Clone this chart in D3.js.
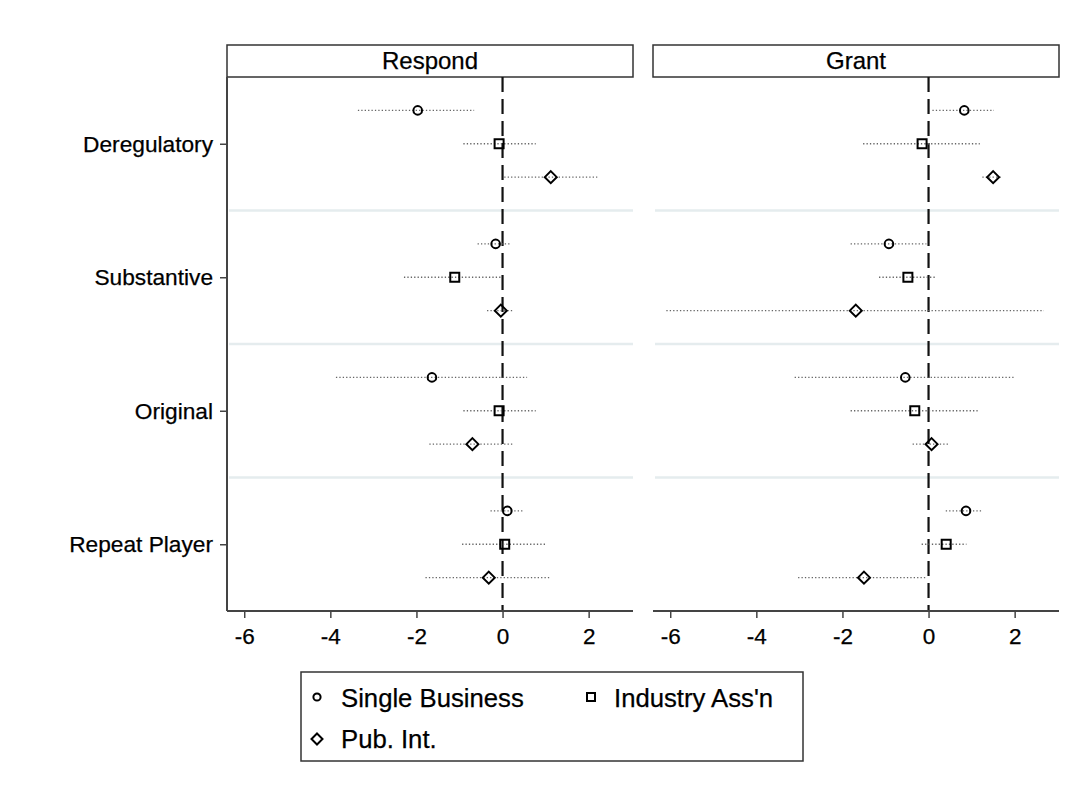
<!DOCTYPE html>
<html>
<head>
<meta charset="utf-8">
<script src="https://cdn.jsdelivr.net/npm/d3@7"></script>
<style>
  html, body { margin: 0; padding: 0; background: #fff; }
  svg { display: block; font-family: "Liberation Sans", Arial, Helvetica, sans-serif; }
  text { stroke: #000; stroke-width: 0.25px; }
</style>
</head>
<body>
<svg id="chart" width="1084" height="795"></svg>
<script>
// Outcome categories (rows) and submitter types (markers within each row)
const categories = ["Deregulatory", "Substantive", "Original", "Repeat Player"];
const groups = ["Single Business", "Industry Ass'n", "Pub. Int."];
const panels = ["Respond", "Grant"];
const xTicks = [-6, -4, -2, 0, 2];

// Respond panel: estimate, lower bound, upper bound per category, one array per group
const respondSingleEst = [-1.97, -0.16, -1.64, 0.11];
const respondSingleLo  = [-3.36, -0.58, -3.87, -0.28];
const respondSingleHi  = [-0.66,  0.19,  0.57,  0.48];
const respondIndEst    = [-0.08, -1.11, -0.08, 0.05];
const respondIndLo     = [-0.91, -2.29, -0.91, -0.94];
const respondIndHi     = [ 0.77, -0.04,  0.77,  1.02];
const respondPubEst    = [ 1.12, -0.04, -0.70, -0.32];
const respondPubLo     = [ 0.04, -0.36, -1.70, -1.79];
const respondPubHi     = [ 2.20,  0.23,  0.27,  1.10];

// Grant panel
const grantSingleEst = [ 0.83, -0.92, -0.54, 0.87];
const grantSingleLo  = [ 0.09, -1.81, -3.11, 0.40];
const grantSingleHi  = [ 1.52, -0.05,  1.99, 1.25];
const grantIndEst    = [-0.15, -0.48, -0.32, 0.41];
const grantIndLo     = [-1.52, -1.15, -1.81, -0.16];
const grantIndHi     = [ 1.19,  0.17,  1.14, 0.88];
const grantPubEst    = [ 1.50, -1.69,  0.07, -1.50];
const grantPubLo     = [ 1.25, -6.09, -0.37, -3.03];
const grantPubHi     = [ 1.72,  2.68,  0.48, -0.05];

const panelSeries = {
  "Respond": [
    [respondSingleEst, respondSingleLo, respondSingleHi],
    [respondIndEst, respondIndLo, respondIndHi],
    [respondPubEst, respondPubLo, respondPubHi]
  ],
  "Grant": [
    [grantSingleEst, grantSingleLo, grantSingleHi],
    [grantIndEst, grantIndLo, grantIndHi],
    [grantPubEst, grantPubLo, grantPubHi]
  ]
};

// Flatten into plotting rows: slot index places each marker inside its category band
function rowsFor(panel) {
  const out = [];
  categories.forEach((c, ci) => {
    groups.forEach((g, gi) => {
      const s = panelSeries[panel][gi];
      out.push({ cat: c, group: gi, slot: ci * 4 + gi + 1, est: s[0][ci], lo: s[1][ci], hi: s[2][ci] });
    });
  });
  return out;
}

const svg = d3.select("#chart");
const panelLeft = [227, 653];
const panelW = 406;
const plotTop = 77, plotBottom = 611;
const stripTop = 45;

const y = d3.scaleLinear().domain([0, 16]).range([plotTop, plotBottom]);

// marker outlines: hollow circle, square, diamond
const markerPaths = [
  "M4.3,0A4.3,4.3,0,1,1,-4.3,0A4.3,4.3,0,1,1,4.3,0Z",
  "M-4.5,-4.5H4.5V4.5H-4.5Z",
  "M0,-6L6,0L0,6L-6,0Z"
];

panels.forEach((panel, pi) => {
  const x0 = panelLeft[pi];
  const x = d3.scaleLinear().domain([-6.4, 3.03]).range([x0, x0 + panelW]);
  const g = svg.append("g");

  // strip header
  g.append("rect")
    .attr("x", x0).attr("y", stripTop)
    .attr("width", panelW).attr("height", plotTop - stripTop)
    .attr("fill", "#fff").attr("stroke", "#333").attr("stroke-width", 1.5);
  g.append("text")
    .attr("x", x0 + panelW / 2).attr("y", 68.5)
    .attr("text-anchor", "middle")
    .attr("font-size", 24).attr("fill", "#000")
    .text(panel);

  // category separators
  [4, 8, 12].forEach(s => {
    g.append("line")
      .attr("x1", x0 + 2).attr("x2", x0 + panelW)
      .attr("y1", y(s)).attr("y2", y(s))
      .attr("stroke", "#e5ecee").attr("stroke-width", 2.5);
  });

  // zero reference line
  g.append("line")
    .attr("x1", x(0)).attr("x2", x(0))
    .attr("y1", plotTop).attr("y2", plotBottom)
    .attr("stroke", "#111").attr("stroke-width", 2.2)
    .attr("stroke-dasharray", "15,7");

  const rows = rowsFor(panel);

  // confidence intervals
  g.selectAll("line.ci").data(rows).join("line")
    .attr("class", "ci")
    .attr("x1", d => x(d.lo)).attr("x2", d => x(d.hi))
    .attr("y1", d => y(d.slot)).attr("y2", d => y(d.slot))
    .attr("stroke", "#666").attr("stroke-width", 1.4)
    .attr("stroke-dasharray", "1.3,2.1");

  // point estimates
  g.selectAll("path.pt").data(rows).join("path")
    .attr("class", "pt")
    .attr("transform", d => `translate(${x(d.est)},${y(d.slot)})`)
    .attr("d", d => markerPaths[d.group])
    .attr("fill", "none").attr("stroke", "#000").attr("stroke-width", 2);

  // x axis
  const xAxis = d3.axisBottom(x).tickValues(xTicks).tickFormat(d => String(d))
    .tickSize(7).tickPadding(5);
  const ax = g.append("g").attr("transform", `translate(0,${plotBottom})`).call(xAxis);
  ax.select(".domain").attr("stroke", "#444").attr("stroke-width", 2)
    .attr("d", `M${x0},0H${x0 + panelW}`);
  ax.selectAll(".tick line").attr("stroke", "#444").attr("stroke-width", 1.5);
  ax.selectAll(".tick text").attr("font-size", 22.5).attr("fill", "#000")
    .attr("font-family", "Liberation Sans, Arial, sans-serif").attr("dy", "0.95em");

  // y axis on the first panel only
  if (pi === 0) {
    const yCat = d3.scaleOrdinal().domain(categories).range(categories.map((c, i) => y(i * 4 + 2)));
    const yAxis = d3.axisLeft(yCat).tickSize(7).tickPadding(7);
    const ay = g.append("g").attr("transform", `translate(${x0},0)`).call(yAxis);
    ay.select(".domain").attr("stroke", "#444").attr("stroke-width", 2)
      .attr("d", `M0,${plotTop}V${plotBottom}`);
    ay.selectAll(".tick line").attr("stroke", "#444").attr("stroke-width", 1.5);
    ay.selectAll(".tick text").attr("font-size", 22.7).attr("fill", "#000")
      .attr("font-family", "Liberation Sans, Arial, sans-serif");
  }
});

// legend
const lg = svg.append("g");
lg.append("rect")
  .attr("x", 301).attr("y", 672).attr("width", 502).attr("height", 89)
  .attr("fill", "#fff").attr("stroke", "#333").attr("stroke-width", 1.5);

const legendPos = [
  { mx: 317, my: 697, tx: 341, ty: 707 },
  { mx: 591, my: 697, tx: 614, ty: 707 },
  { mx: 317, my: 739, tx: 341, ty: 748 }
];
const legendSym = [
  "M3.6,0A3.6,3.6,0,1,1,-3.6,0A3.6,3.6,0,1,1,3.6,0Z",
  "M-4,-4H4V4H-4Z",
  "M0,-5.5L5.5,0L0,5.5L-5.5,0Z"
];
groups.forEach((name, i) => {
  const p = legendPos[i];
  lg.append("path")
    .attr("transform", `translate(${p.mx},${p.my})`)
    .attr("d", legendSym[i])
    .attr("fill", "none").attr("stroke", "#000").attr("stroke-width", 2);
  lg.append("text")
    .attr("x", p.tx).attr("y", p.ty)
    .attr("font-size", 25.7).attr("fill", "#000")
    .text(name);
});
</script>
</body>
</html>
